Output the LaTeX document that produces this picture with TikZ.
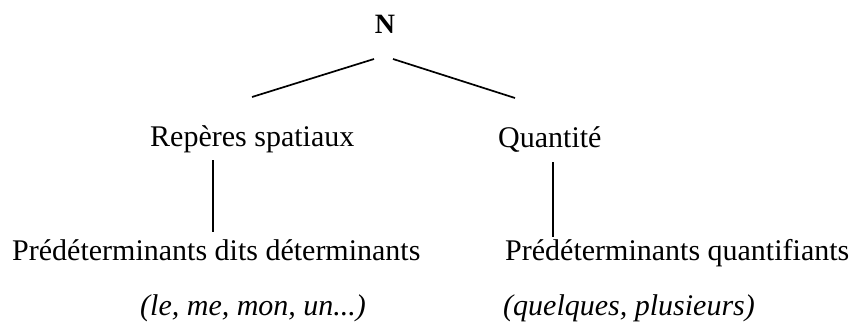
\documentclass[tikz,border=0pt]{standalone}
\usepackage{fontspec}
\setmainfont{Liberation Serif}
\begin{document}
\begin{tikzpicture}[x=1pt,y=1pt,
  lbl/.style={inner sep=0pt,font=\fontsize{30}{36}\selectfont},
  ital/.style={inner sep=0pt,font=\fontsize{30}{36}\selectfont\itshape},
  root/.style={inner sep=0pt,font=\fontsize{28}{34}\selectfont\bfseries},
  slant/.style={line width=1.7pt},
  vert/.style={line width=1.2pt}]
\useasboundingbox (0,0) rectangle (853,325);
% nodes
\node[root,anchor=base] (N) at (385,292) {N};
\node[lbl,anchor=base west] (rep) at (150,179) {Repères spatiaux};
\node[lbl,anchor=base west] (qua) at (498,178) {Quantité};
\node[lbl,anchor=base west] (pdd) at (12,65) {Prédéterminants dits déterminants};
\node[lbl,anchor=base west] (pdq) at (505,65) {Prédéterminants quantifiants};
\node[ital,anchor=base west] (exl) at (140,10) {(le, me, mon, un...)};
\node[ital,anchor=base west] (exr) at (503,10) {(quelques, plusieurs)};
% connector ends
\coordinate (nL) at (374,266);
\coordinate (nR) at (393,266);
\coordinate (repT) at (252,228);
\coordinate (quaT) at (515,227);
\coordinate (repB) at (213,165);
\coordinate (pddT) at (213,93);
\coordinate (quaB) at (553,163);
\coordinate (pdqT) at (553,88);
% connectors
\draw[slant] (nL) -- (repT);
\draw[slant] (nR) -- (quaT);
\draw[vert] (repB) -- (pddT);
\draw[vert] (quaB) -- (pdqT);
\end{tikzpicture}
\end{document}
